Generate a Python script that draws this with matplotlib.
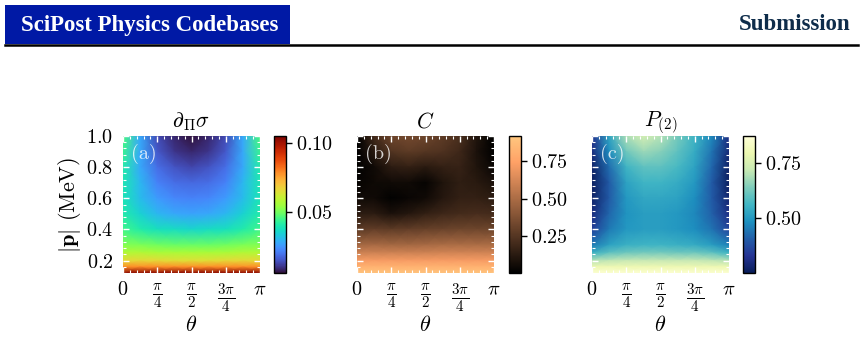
import numpy as np
import matplotlib
matplotlib.use('Agg')
import matplotlib.pyplot as plt
from matplotlib.ticker import AutoMinorLocator
from matplotlib.patches import Rectangle
from matplotlib.lines import Line2D

plt.rcParams['font.family'] = 'serif'
plt.rcParams['font.serif'] = ['cmr10', 'DejaVu Serif']
plt.rcParams['mathtext.fontset'] = 'cm'
plt.rcParams['axes.formatter.use_mathtext'] = True
plt.rcParams['font.size'] = 14.5

# grid of the scan
theta = np.array([0, 1, 2, 3, 4, 5, 6, 7, 8]) * np.pi / 8
p_abs = np.array([1.0, 0.9, 0.8, 0.7, 0.6, 0.5, 0.4, 0.3, 0.25, 0.2, 0.16, 0.12])

# (a) d_Pi sigma
dsigma = np.array([
    [0.046, 0.028, 0.014, 0.009, 0.006, 0.009, 0.014, 0.028, 0.046],
    [0.044, 0.028, 0.016, 0.011, 0.009, 0.011, 0.016, 0.028, 0.044],
    [0.041, 0.028, 0.019, 0.015, 0.013, 0.015, 0.019, 0.028, 0.041],
    [0.040, 0.030, 0.022, 0.019, 0.018, 0.019, 0.022, 0.030, 0.040],
    [0.039, 0.031, 0.026, 0.023, 0.022, 0.023, 0.026, 0.031, 0.039],
    [0.041, 0.035, 0.030, 0.028, 0.027, 0.028, 0.030, 0.035, 0.041],
    [0.045, 0.041, 0.038, 0.037, 0.036, 0.037, 0.038, 0.041, 0.045],
    [0.052, 0.051, 0.050, 0.049, 0.049, 0.049, 0.050, 0.051, 0.052],
    [0.058, 0.058, 0.057, 0.057, 0.057, 0.057, 0.057, 0.058, 0.058],
    [0.066, 0.066, 0.066, 0.065, 0.065, 0.065, 0.066, 0.066, 0.066],
    [0.078, 0.078, 0.078, 0.078, 0.078, 0.078, 0.078, 0.078, 0.078],
    [0.103, 0.103, 0.103, 0.103, 0.103, 0.103, 0.103, 0.103, 0.103],
])

# (b) C
concurrence = np.array([
    [0.00, 0.20, 0.32, 0.34, 0.32, 0.28, 0.22, 0.10, 0.00],
    [0.00, 0.12, 0.24, 0.27, 0.25, 0.23, 0.18, 0.08, 0.00],
    [0.01, 0.05, 0.13, 0.15, 0.12, 0.15, 0.16, 0.09, 0.03],
    [0.02, 0.04, 0.05, 0.05, 0.02, 0.09, 0.14, 0.12, 0.08],
    [0.05, 0.05, 0.01, 0.03, 0.05, 0.11, 0.15, 0.15, 0.13],
    [0.13, 0.13, 0.08, 0.11, 0.15, 0.18, 0.20, 0.21, 0.20],
    [0.27, 0.29, 0.28, 0.29, 0.30, 0.31, 0.32, 0.32, 0.32],
    [0.48, 0.49, 0.48, 0.48, 0.49, 0.50, 0.50, 0.50, 0.50],
    [0.60, 0.60, 0.60, 0.60, 0.60, 0.61, 0.61, 0.61, 0.61],
    [0.72, 0.72, 0.72, 0.72, 0.72, 0.72, 0.72, 0.72, 0.72],
    [0.82, 0.82, 0.82, 0.82, 0.82, 0.82, 0.82, 0.82, 0.82],
    [0.90, 0.90, 0.90, 0.90, 0.90, 0.90, 0.90, 0.90, 0.90],
])

# (c) P_(2)
purity = np.array([
    [0.33, 0.53, 0.69, 0.75, 0.70, 0.63, 0.56, 0.47, 0.31],
    [0.30, 0.48, 0.62, 0.67, 0.65, 0.60, 0.54, 0.44, 0.29],
    [0.27, 0.43, 0.56, 0.60, 0.60, 0.57, 0.52, 0.42, 0.27],
    [0.26, 0.40, 0.52, 0.56, 0.56, 0.54, 0.50, 0.40, 0.26],
    [0.27, 0.40, 0.50, 0.53, 0.53, 0.52, 0.48, 0.40, 0.28],
    [0.30, 0.42, 0.49, 0.51, 0.51, 0.50, 0.47, 0.41, 0.31],
    [0.35, 0.45, 0.50, 0.51, 0.51, 0.50, 0.48, 0.44, 0.36],
    [0.45, 0.52, 0.55, 0.56, 0.56, 0.55, 0.54, 0.51, 0.46],
    [0.55, 0.60, 0.62, 0.63, 0.63, 0.62, 0.62, 0.60, 0.56],
    [0.70, 0.71, 0.72, 0.72, 0.72, 0.72, 0.72, 0.71, 0.70],
    [0.80, 0.80, 0.80, 0.80, 0.80, 0.80, 0.80, 0.80, 0.80],
    [0.86, 0.86, 0.86, 0.86, 0.86, 0.86, 0.86, 0.86, 0.86],
])

panels = [
    (dsigma, r'$\partial_\Pi\sigma$', 'turbo', '(a)', [0.05, 0.10], (0.006, 0.105)),
    (concurrence, r'$C$', 'copper', '(b)', [0.25, 0.50, 0.75], (0.0, 0.92)),
    (purity, r'$P_{(2)}$', 'YlGnBu_r', '(c)', [0.50, 0.75], (0.25, 0.875)),
]
xtick_labels = [r'$0$', r'$\frac{\pi}{4}$', r'$\frac{\pi}{2}$', r'$\frac{3\pi}{4}$', r'$\pi$']

W, H = 863, 340
fig = plt.figure(figsize=(W / 100, H / 100), dpi=100)

def px(x0, y0, w, h):
    return [x0 / W, 1 - (y0 + h) / H, w / W, h / H]

# header
fig.patches.append(Rectangle((5 / W, 1 - 44 / H), 285 / W, 39 / H, transform=fig.transFigure,
                             facecolor='#0019a5', edgecolor='none'))
fig.lines.append(Line2D([5 / W, 858 / W], [1 - 45 / H, 1 - 45 / H], transform=fig.transFigure,
                        color='black', lw=1.8))
fig.text(21 / W, 1 - 25 / H, 'SciPost Physics Codebases', color='white', fontsize=16.5,
         family='Liberation Serif', weight='bold', va='center', ha='left')
fig.text(850 / W, 1 - 24 / H, 'Submission', color='#0e2c4a', fontsize=16.5,
         family='Liberation Serif', weight='bold', va='center', ha='right')

ax_left = [123, 357, 592]
cb_left = [274, 509, 743]
TH, TP = np.meshgrid(theta, p_abs)

for i, (z, title, cmap, tag, cticks, lims) in enumerate(panels):
    ax = fig.add_axes(px(ax_left[i], 136, 137, 137))
    m = ax.pcolormesh(TH, TP, z, shading='gouraud', cmap=cmap, vmin=lims[0], vmax=lims[1],
                      rasterized=True)
    ax.set_xlim(0, np.pi)
    ax.set_ylim(0.12, 1.0)
    ax.set_xticks([0, np.pi / 4, np.pi / 2, 3 * np.pi / 4, np.pi])
    ax.set_xticklabels(xtick_labels)
    for lab in ax.get_xticklabels()[1:4]:
        lab.set_fontsize(15.5)
    ax.set_yticks([0.2, 0.4, 0.6, 0.8, 1.0])
    ax.xaxis.set_minor_locator(AutoMinorLocator(5))
    ax.yaxis.set_minor_locator(AutoMinorLocator(5))
    ax.tick_params(which='both', direction='in', color='white', top=True, right=True)
    ax.tick_params(which='major', length=4, width=1, pad=7)
    ax.tick_params(axis='x', which='major', pad=6)
    ax.tick_params(which='minor', length=2.5, width=0.8)
    for s in ax.spines.values():
        s.set_visible(False)
    if i > 0:
        ax.set_yticklabels([])
    else:
        ax.set_ylabel(r'$|\mathbf{p}|$ (MeV)', fontsize=16, labelpad=2)
    xl = ax.set_xlabel(r'$\theta$', fontsize=16)
    xl.set_va('center')
    ax.xaxis.set_label_coords(0.5, -0.38)
    ax.set_title(title, pad=6, fontsize=15.5)
    ax.text(0.06, 0.94, tag, transform=ax.transAxes, color='white', alpha=0.8,
            ha='left', va='top')

    cax = fig.add_axes(px(cb_left[i], 136, 12, 137))
    cb = fig.colorbar(m, cax=cax)
    cb.set_ticks(cticks)
    cb.ax.tick_params(length=4, width=1)
    cb.outline.set_linewidth(1)

fig.savefig('out.png', dpi=100)
